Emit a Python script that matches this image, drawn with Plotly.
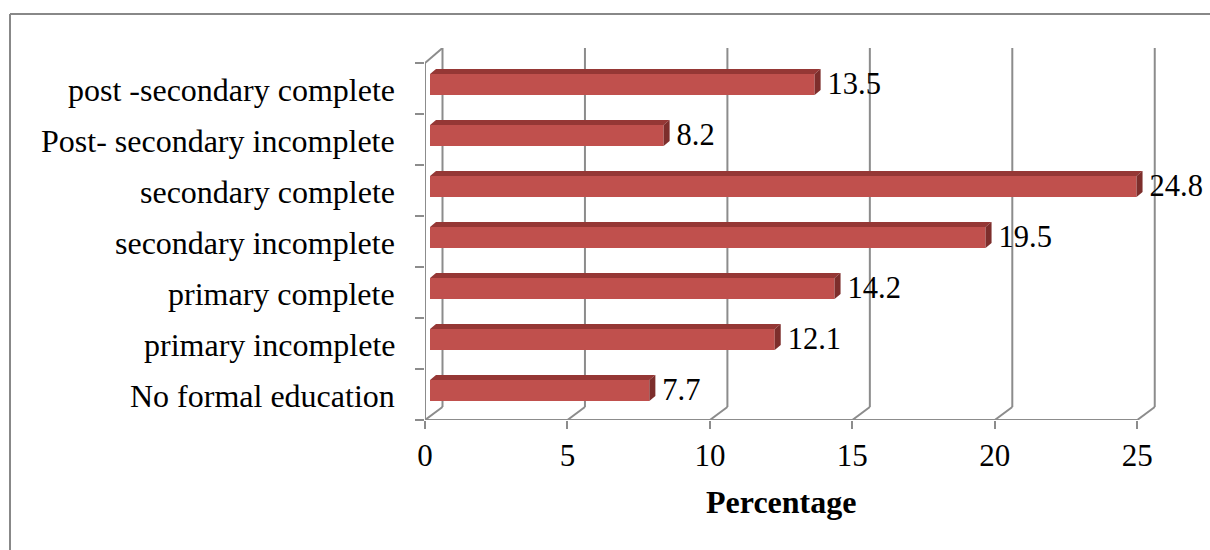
import plotly.graph_objects as go

# Education level distribution (bottom to top)
categories = [
    "No formal education",
    "primary incomplete",
    "primary complete",
    "secondary incomplete",
    "secondary complete",
    "Post- secondary incomplete",
    "post -secondary complete",
]
percentages = [7.7, 12.1, 14.2, 19.5, 24.8, 8.2, 13.5]
x_ticks = [0, 5, 10, 15, 20, 25]

FONT = "Liberation Serif, Times New Roman, serif"
FS_CAT = 32
FS_VAL = 30.5
FS_TICK = 31
FS_TITLE = 32
GRID = "#8c8c8c"
FRONT = "#C0504D"
TOP = "#953735"
SIDE = "#7d2e2c"

# pixel geometry of the plotting frame
W, H = 1210, 550
L, R, T, B = 425, 40, 48, 130
PX_X = 28.49          # pixels per percentage point
PX_Y = 51.0           # pixels per category
plot_w = W - L - R
plot_h = H - T - B
x_max = plot_w / PX_X
y_min = -0.5
y_max = y_min + plot_h / PX_Y

def ux(px):
    return px / PX_X

def uy(px):
    return px / PX_Y

# 3-D pseudo-perspective offsets
depth_dx = ux(17.5)
depth_dy_floor = uy(13)
depth_dy_top = uy(15)
bar_base = ux(5)
bar_shift = uy(4)
bar_h = uy(21)
face_dx = ux(6)
face_dy = uy(5)

n = len(categories)
ypos = list(range(n))
bar_y = [y + bar_shift for y in ypos]

fig = go.Figure()

# front faces
fig.add_trace(go.Bar(
    x=percentages, y=bar_y, base=bar_base, orientation="h", width=bar_h,
    marker=dict(color=FRONT, line=dict(width=0)), hoverinfo="skip",
))

# top and side faces
top_x, top_y, side_x, side_y = [], [], [], []
for v, yc in zip(percentages, bar_y):
    yt = yc + bar_h / 2
    yb = yc - bar_h / 2
    x0 = bar_base
    x1 = bar_base + v
    top_x += [x0, x0 + face_dx, x1 + face_dx, x1, x0, None]
    top_y += [yt, yt + face_dy, yt + face_dy, yt, yt, None]
    side_x += [x1, x1 + face_dx, x1 + face_dx, x1, x1, None]
    side_y += [yt, yt + face_dy, yb + face_dy, yb, yt, None]

fig.add_trace(go.Scatter(x=top_x, y=top_y, fill="toself", fillcolor=TOP,
                         mode="lines", line=dict(width=0), hoverinfo="skip"))
fig.add_trace(go.Scatter(x=side_x, y=side_y, fill="toself", fillcolor=SIDE,
                         mode="lines", line=dict(width=0), hoverinfo="skip"))

# value labels
fig.add_trace(go.Scatter(
    x=[bar_base + v + ux(13) for v in percentages],
    y=[yc - uy(1.5) for yc in bar_y],
    mode="text", text=[f"{v}" for v in percentages],
    textposition="middle right",
    textfont=dict(family=FONT, size=FS_VAL, color="black"),
    cliponaxis=False, hoverinfo="skip",
))

shapes = []
line = dict(color=GRID, width=2)
y_floor_front = y_min
y_floor_back = y_min + depth_dy_floor
# back wall gridlines with floor diagonals
for t in x_ticks:
    shapes.append(dict(type="line", xref="x", yref="y", x0=t + depth_dx, x1=t + depth_dx,
                       y0=y_floor_back, y1=y_max, line=line, layer="below"))
    shapes.append(dict(type="line", xref="x", yref="y", x0=t, x1=t + depth_dx,
                       y0=y_floor_front, y1=y_floor_back, line=line, layer="below"))
# floor front edge
shapes.append(dict(type="line", xref="x", yref="y", x0=0, x1=x_ticks[-1],
                   y0=y_floor_front, y1=y_floor_front, line=line, layer="below"))
# side wall front edge and top diagonal
y_wall_top = n - 0.5
shapes.append(dict(type="line", xref="x", yref="y", x0=0, x1=0,
                   y0=y_floor_front, y1=y_wall_top, line=line, layer="below"))
shapes.append(dict(type="line", xref="x", yref="y", x0=0, x1=depth_dx,
                   y0=y_wall_top, y1=y_wall_top + depth_dy_top, line=line, layer="below"))

# outer chart border
def px2paper_x(px):
    return (px - L) / plot_w

def px2paper_y(py):
    return (H - B - py) / plot_h

border = dict(color="#888888", width=2)
shapes.append(dict(type="line", xref="paper", yref="paper",
                   x0=px2paper_x(10), x1=px2paper_x(1260),
                   y0=px2paper_y(14), y1=px2paper_y(14), line=border))
shapes.append(dict(type="line", xref="paper", yref="paper",
                   x0=px2paper_x(10), x1=px2paper_x(10),
                   y0=px2paper_y(14), y1=px2paper_y(600), line=border))

annotations = []
for y, name in zip(ypos, categories):
    annotations.append(dict(
        text=name, xref="paper", yref="y", x=px2paper_x(397), y=y - uy(1),
        xanchor="right", yanchor="middle", showarrow=False,
        font=dict(family=FONT, size=FS_CAT, color="black"),
    ))
annotations.append(dict(
    text="<b>Percentage</b>", xref="x", yref="paper",
    x=x_ticks[-1] / 2, y=px2paper_y(502), xanchor="center", yanchor="middle",
    showarrow=False, font=dict(family=FONT, size=FS_TITLE, color="black"),
))

fig.update_layout(
    width=W, height=H,
    margin=dict(l=L, r=R, t=T, b=B, pad=0),
    paper_bgcolor="white", plot_bgcolor="white",
    showlegend=False, barmode="overlay",
    shapes=shapes, annotations=annotations,
    xaxis=dict(
        range=[0, x_max], showgrid=False, zeroline=False, showline=False,
        tickmode="array", tickvals=x_ticks, ticktext=[str(t) for t in x_ticks],
        ticks="outside", ticklen=8, tickwidth=2, tickcolor=GRID,
        tickfont=dict(family=FONT, size=FS_TICK, color="black"),
        fixedrange=True,
    ),
    yaxis=dict(
        range=[y_min, y_max], showgrid=False, zeroline=False, showline=False,
        showticklabels=False, ticks="",
        minor=dict(tickmode="array", tickvals=[i - 0.5 for i in range(n + 1)],
                   ticks="outside", ticklen=9, tickwidth=2, tickcolor=GRID),
        fixedrange=True,
    ),
)

fig.write_html("out.html")
